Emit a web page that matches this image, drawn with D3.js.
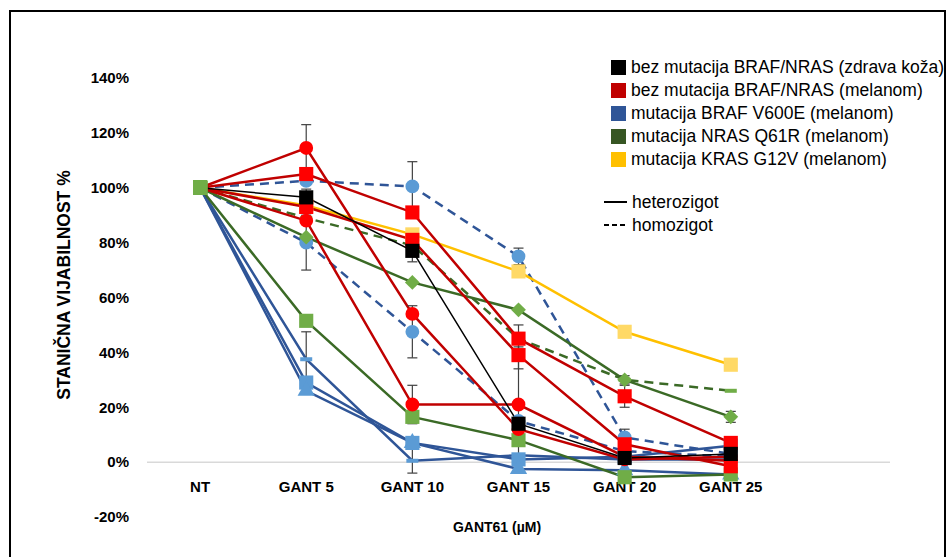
<!DOCTYPE html>
<html lang="en">
<head>
    <meta charset="UTF-8">
    <title>GANT61 - stanična vijabilnost</title>
    <script src="https://d3js.org/d3.v7.min.js"></script>
    <style>
        body { margin: 0; background: #fff; }
        svg { display: block; font-family: "Liberation Sans", Arial, sans-serif; }
    </style>
</head>
<body>
<div id="chart"></div>
<script>
    // categories (last slot is empty, like in the original Excel chart)
    const categories = ["NT", "GANT 5", "GANT 10", "GANT 15", "GANT 20", "GANT 25", ""];
    const yTicks = [-20, 0, 20, 40, 60, 80, 100, 120, 140];

    // values (%)
    const blackSq   = [100, 96.5, 77, 14, 1.5, 3];
    const redSq1    = [100, 105, 91, 45, 24, 7];
    const redSq2    = [100, 93, 81, 39, 6.5, -1.5];
    const redCirc1  = [100, 114.5, 54, 12, 1, 2];
    const redCirc2  = [100, 88, 21, 21, 2, 0.5];
    const blueDash1 = [100, 102.5, 100.5, 75, 9, 3];
    const blueDash2 = [100, 80, 47.5, 15, 4, 2];
    const blueBar   = [100, 37.5, 0.5, 2.5, 1, 1];
    const blueSq    = [100, 29, 7, 1, 2, 6];
    const blueTri   = [100, 26, 7, -2.5, -3, -4.5];
    const greenDia  = [100, 82, 65.5, 55.5, 30, 16.5];
    const greenDash = [100, 89, 79, 45, 30, 26];
    const greenSq   = [100, 51.5, 16.5, 8, -5.5, -4.5];
    const yellowSq  = [100, 93.5, 83, 69.5, 47.5, 35.5];

    // error bars (+/-), 0 = none
    const blackErr     = [0, 3, 4, 0, 0, 0];
    const redSq1Err    = [0, 0, 0, 5, 4, 0];
    const redSq2Err    = [0, 0, 0, 5, 0, 0];
    const redCirc1Err  = [0, 8.5, 0, 0, 0, 0];
    const redCirc2Err  = [0, 0, 7, 21, 0, 0];
    const blueDash1Err = [0, 0, 9, 3, 3, 0];
    const blueDash2Err = [0, 10, 9.5, 0, 0, 0];
    const blueBarErr   = [0, 10, 4.5, 0, 0, 0];
    const greenDiaErr  = [0, 0, 0, 0, 1.5, 2];

    const legendItems = [
        "bez mutacija BRAF/NRAS (zdrava koža)",
        "bez mutacija BRAF/NRAS (melanom)",
        "mutacija BRAF V600E (melanom)",
        "mutacija NRAS Q61R (melanom)",
        "mutacija KRAS G12V (melanom)"
    ];
    const legendColors = ["#000000", "#C00000", "#2F5597", "#375623", "#FFC000"];

    const C = {
        black:  { line: "#000000", mark: "#000000", w: 1.5 },
        red:    { line: "#C00000", mark: "#FF0000", w: 2.5 },
        blue:   { line: "#2F5597", mark: "#5B9BD5", w: 2.5 },
        green:  { line: "#3B6A26", mark: "#70AD47", w: 2.5 },
        yellow: { line: "#FFC000", mark: "#FFD966", w: 2.5 }
    };

    const series = [
        { v: blueDash1, e: blueDash1Err, c: C.blue, dash: true, m: "circle" },
        { v: blueDash2, e: blueDash2Err, c: C.blue, dash: true, m: "circle" },
        { v: greenDash, c: C.green, dash: true, m: "bar" },
        { v: blueBar, e: blueBarErr, c: C.blue, m: "bar" },
        { v: blueSq, c: C.blue, m: "square" },
        { v: blueTri, c: C.blue, m: "triangle" },
        { v: greenSq, c: C.green, m: "square" },
        { v: greenDia, e: greenDiaErr, c: C.green, m: "diamond" },
        { v: yellowSq, c: C.yellow, m: "square" },
        { v: redCirc2, e: redCirc2Err, c: C.red, m: "circle" },
        { v: redCirc1, e: redCirc1Err, c: C.red, m: "circle" },
        { v: redSq2, e: redSq2Err, c: C.red, m: "square" },
        { v: redSq1, e: redSq1Err, c: C.red, m: "square" },
        { v: blackSq, e: blackErr, c: C.black, m: "square" }
    ];

    const width = 947, height = 557;
    const svg = d3.select("#chart").append("svg")
        .attr("width", width).attr("height", height);

    svg.append("rect").attr("x", 10).attr("y", 11)
        .attr("width", 935).attr("height", 560)
        .attr("fill", "#fff").attr("stroke", "#000").attr("stroke-width", 2);

    const x = d3.scaleBand().domain(categories).range([147, 890]);
    const y = d3.scaleLinear().domain([-20, 140]).range([517, 78]);
    const cx = i => x(categories[i]) + x.bandwidth() / 2;

    // zero line
    svg.append("line")
        .attr("x1", 147).attr("x2", 890)
        .attr("y1", y(0)).attr("y2", y(0))
        .attr("stroke", "#d9d9d9").attr("stroke-width", 1.5);

    // y axis labels
    const yAxis = svg.append("g").attr("transform", "translate(132,0)")
        .call(d3.axisLeft(y).tickValues(yTicks).tickSize(0).tickFormat(d => d + "%"));
    yAxis.select(".domain").remove();
    yAxis.selectAll("text").attr("font-size", 15).attr("font-weight", "bold")
        .attr("fill", "#000").attr("font-family", "Liberation Sans, Arial");

    // x axis labels
    const xAxis = svg.append("g").attr("transform", `translate(0,${y(0) + 16})`)
        .call(d3.axisBottom(x).tickSize(0));
    xAxis.select(".domain").remove();
    xAxis.selectAll("text").attr("font-size", 15).attr("font-weight", "bold")
        .attr("fill", "#000").attr("font-family", "Liberation Sans, Arial");

    svg.append("text")
        .attr("transform", "translate(70,285) rotate(-90)")
        .attr("text-anchor", "middle").attr("font-size", 17.5).attr("font-weight", "bold")
        .text("STANIČNA VIJABILNOST %");

    svg.append("text")
        .attr("x", 497).attr("y", 532)
        .attr("text-anchor", "middle").attr("font-size", 14).attr("font-weight", "bold")
        .text("GANT61 (µM)");

    const line = d3.line().x((d, i) => cx(i)).y(d => y(d));

    // lines
    series.forEach(s => {
        svg.append("path")
            .attr("d", line(s.v))
            .attr("fill", "none")
            .attr("stroke", s.c.line)
            .attr("stroke-width", s.c.w)
            .attr("stroke-dasharray", s.dash ? "9,6" : null);
    });

    // error bars
    series.forEach(s => {
        if (!s.e) return;
        s.v.forEach((v, i) => {
            const e = s.e[i];
            if (!e) return;
            const g = svg.append("g").attr("stroke", "#404040").attr("stroke-width", 1.2);
            g.append("line").attr("x1", cx(i)).attr("x2", cx(i))
                .attr("y1", y(v - e)).attr("y2", y(v + e));
            [v - e, v + e].forEach(t => g.append("line")
                .attr("x1", cx(i) - 5).attr("x2", cx(i) + 5)
                .attr("y1", y(t)).attr("y2", y(t)));
        });
    });

    // markers
    const sym = {
        circle: d3.symbol().type(d3.symbolCircle).size(150),
        square: d3.symbol().type(d3.symbolSquare).size(200),
        diamond: d3.symbol().type(d3.symbolSquare).size(110),
        triangle: d3.symbol().type(d3.symbolTriangle).size(130)
    };
    series.forEach(s => {
        s.v.forEach((v, i) => {
            const col = i === 0 ? "#70AD47" : s.c.mark;
            if (s.m === "bar") {
                svg.append("rect")
                    .attr("x", cx(i) - 6).attr("y", y(v) - 2)
                    .attr("width", 12).attr("height", 4).attr("fill", col);
            } else {
                const rot = (s.m === "diamond" && i > 0) ? " rotate(45)" : "";
                svg.append("path")
                    .attr("d", (i === 0 ? sym.square : sym[s.m])())
                    .attr("transform", `translate(${cx(i)},${y(v)})${rot}`)
                    .attr("fill", col);
            }
        });
    });

    // legend
    const leg = svg.append("g");
    legendItems.forEach((t, i) => {
        const ly = 67 + i * 23;
        leg.append("rect").attr("x", 611).attr("y", ly - 7)
            .attr("width", 15).attr("height", 15).attr("fill", legendColors[i]);
        leg.append("text").attr("x", 631).attr("y", ly + 6)
            .attr("font-size", 17.5).attr("font-family", "Liberation Sans, Arial")
            .attr("textLength", i === 0 ? 313 : null)
            .text(t);
    });
    [["heterozigot", null, 202], ["homozigot", "5,3", 225]].forEach(([t, dash, ly]) => {
        leg.append("line").attr("x1", 604).attr("x2", 627)
            .attr("y1", ly).attr("y2", ly)
            .attr("stroke", "#000").attr("stroke-width", 2)
            .attr("stroke-dasharray", dash);
        leg.append("text").attr("x", 632).attr("y", ly + 6)
            .attr("font-size", 17.5).attr("font-family", "Liberation Sans, Arial")
            .text(t);
    });
</script>
</body>
</html>
